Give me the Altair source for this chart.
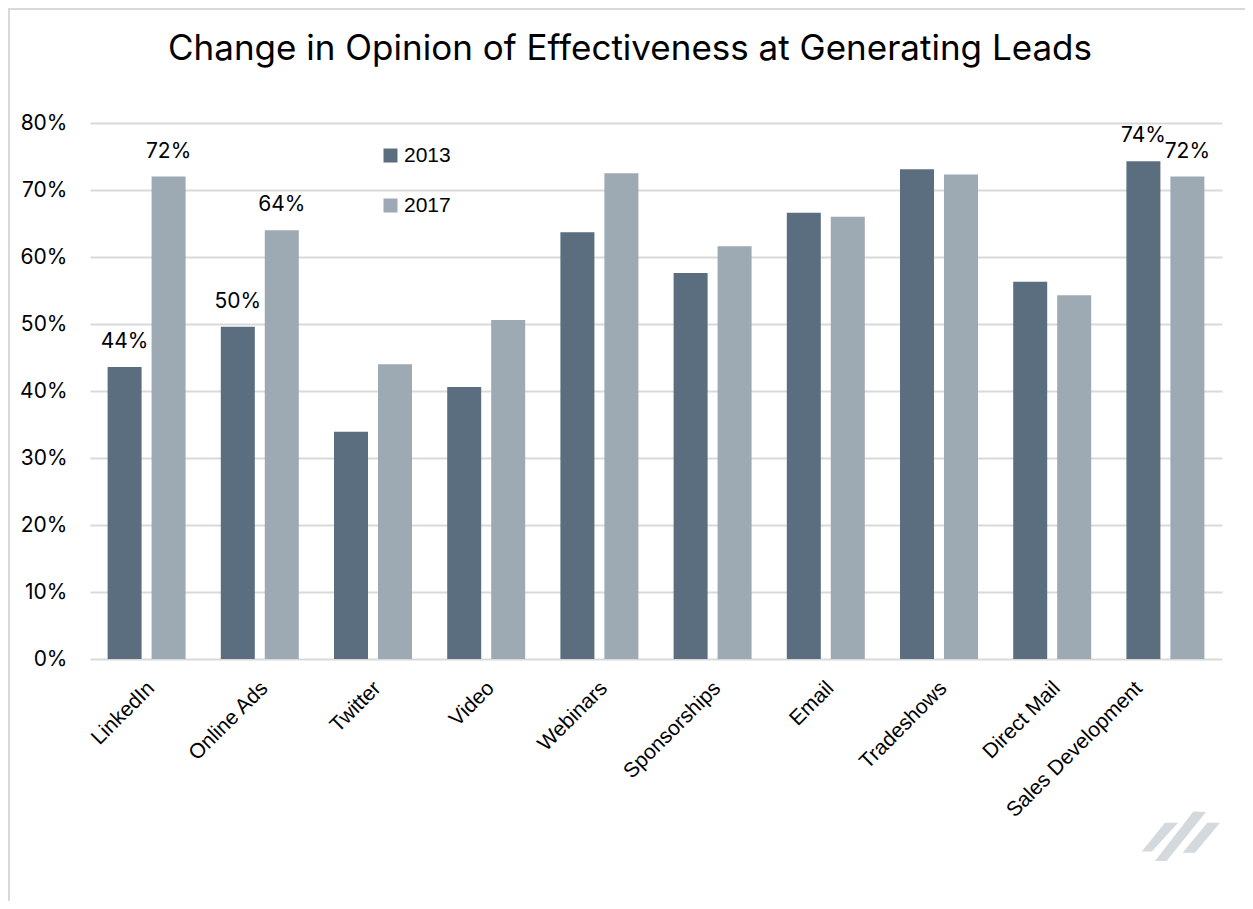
import altair as alt
import pandas as pd

categories = ["LinkedIn", "Online Ads", "Twitter", "Video", "Webinars",
              "Sponsorships", "Email", "Tradeshows", "Direct Mail", "Sales Development"]
values_2013 = [0.436, 0.496, 0.339, 0.406, 0.637, 0.576, 0.666, 0.731, 0.563, 0.743]
values_2017 = [0.720, 0.640, 0.440, 0.506, 0.725, 0.616, 0.660, 0.723, 0.543, 0.720]
show_2013 = [True, True, False, False, False, False, False, False, False, True]
show_2017 = [True, True, False, False, False, False, False, False, False, True]
years = ["2013", "2017"]
colors = ["#5b6e7f", "#9da9b3"]
y_ticks = [0, 0.1, 0.2, 0.3, 0.4, 0.5, 0.6, 0.7, 0.8]
title_text = "Change in Opinion of Effectiveness at Generating Leads"

rows = []
for c, v1, v2, s1, s2 in zip(categories, values_2013, values_2017, show_2013, show_2017):
    rows.append({"category": c, "year": "2013", "value": v1, "show": s1})
    rows.append({"category": c, "year": "2017", "value": v2, "show": s2})
df = pd.DataFrame(rows)

W, H = 1132, 536
PL, PT, PR, PB = 82, 115, 23, 242

x_enc = alt.X("category:N", sort=categories,
              scale=alt.Scale(paddingInner=0.311, paddingOuter=0.1555),
              axis=alt.Axis(title=None, labelAngle=-45, labelFontSize=21,
                            labelFont="Liberation Sans", labelColor="#000000",
                            labelPadding=18, labelLimit=400, domain=False, ticks=False,
                            labelOffset={"condition": {"test": "datum.value == 'Sales Development'",
                                                       "value": -34},
                                         "value": -3}))
xoff_enc = alt.XOffset("year:N", sort=years,
                       scale=alt.Scale(paddingInner=0.227, paddingOuter=0))
y_enc = alt.Y("value:Q", scale=alt.Scale(domain=[0, 0.8]),
              axis=alt.Axis(title=None, values=y_ticks, format=".0%",
                            labelFontSize=21, labelFont="Inter", labelColor="#000000",
                            labelPadding=23, domain=False, ticks=False,
                            grid=True, gridColor="#d9d9d9", gridWidth=2))

base = alt.Chart(df)
bars = base.mark_bar().encode(
    x=x_enc,
    xOffset=xoff_enc,
    y=y_enc,
    color=alt.Color("year:N", sort=years,
                    scale=alt.Scale(domain=years, range=colors),
                    legend=alt.Legend(title=None, orient="none", legendX=290, legendY=22,
                                      symbolType="square", symbolSize=196,
                                      symbolStrokeWidth=0, labelFontSize=21,
                                      labelFont="Liberation Sans", labelColor="#000000",
                                      rowPadding=28, labelOffset=3)),
)

labels = base.transform_filter("datum.show").mark_text(
    dy=-19, baseline="alphabetic", fontSize=21, font="Inter", color="#000000"
).encode(
    x=alt.X("category:N", sort=categories),
    xOffset=alt.XOffset("year:N", sort=years),
    y=alt.Y("value:Q"),
    text=alt.Text("value:Q", format=".0%"),
)

one = pd.DataFrame({"k": [0]})
logo_path = ("M-0.98,0.39 L-0.73,0.39 L-0.07,-0.33 L-0.40,-0.33 Z "
             "M-0.65,0.625 L-0.36,0.625 L0.625,-0.6 L0.31,-0.61 Z "
             "M0.04,0.42 L0.35,0.42 L0.975,-0.33 L0.66,-0.33 Z")
logo = alt.Chart(one).mark_point(shape=logo_path, filled=True, size=6400,
                                 color="#d4d9dd", opacity=1, strokeWidth=0).encode(
    x=alt.value(1091), y=alt.value(713))

top_border = alt.Chart(one).mark_rule(color="#d9d9d9", strokeWidth=2).encode(
    x=alt.value(-PL), x2=alt.value(W + PR), y=alt.value(-PT + 1))
left_border = alt.Chart(one).mark_rule(color="#d9d9d9", strokeWidth=2).encode(
    x=alt.value(-PL + 1), y=alt.value(-PT), y2=alt.value(H + PB))

chart = alt.layer(bars, labels, logo, top_border, left_border).properties(
    width=W, height=H,
    padding={"left": PL, "top": PT, "right": PR, "bottom": PB},
    autosize="none",
    title=alt.Title(title_text, fontSize=35, font="Inter", fontWeight="normal",
                    color="#000000", offset=-60, dx=-26, anchor="middle"),
).configure_view(stroke=None)

chart.save("out.html", embed_options={"renderer": "svg", "actions": False})
